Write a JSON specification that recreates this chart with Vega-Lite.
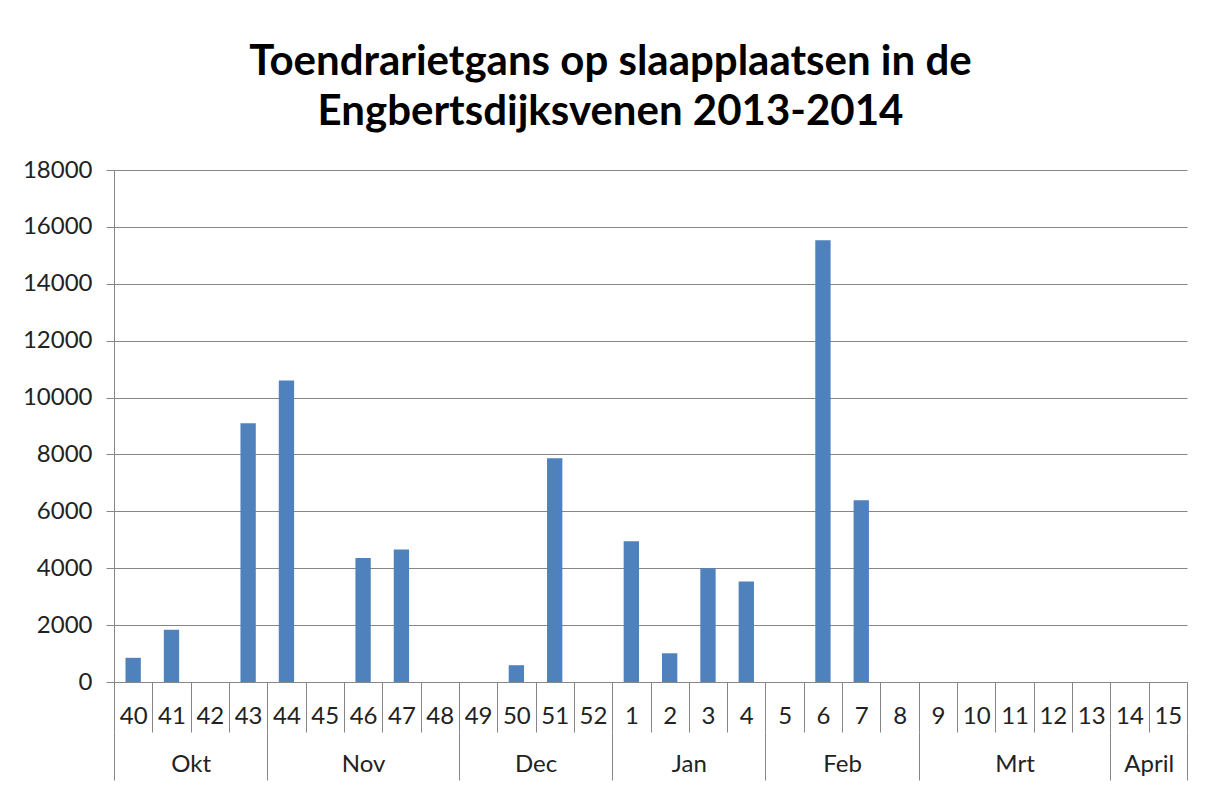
{
  "$schema": "https://vega.github.io/schema/vega-lite/v6.json",
  "width": 1073,
  "height": 512,
  "autosize": {"type": "none"},
  "padding": {"left": 114, "top": 170, "right": 25, "bottom": 105},
  "background": "white",
  "title": {
    "text": ["Toendrarietgans op slaapplaatsen in de", "Engbertsdijksvenen 2013-2014"],
    "font": "Lato",
    "fontSize": 42,
    "fontWeight": "bold",
    "color": "#000000",
    "lineHeight": 50,
    "anchor": "middle",
    "dx": -40,
    "offset": 24
  },
  "config": {"view": {"stroke": null}, "font": "Lato"},
  "data": {
    "values": [
      {"week": "40", "count": 850},
      {"week": "41", "count": 1840},
      {"week": "42", "count": 0},
      {"week": "43", "count": 9100},
      {"week": "44", "count": 10600},
      {"week": "45", "count": 0},
      {"week": "46", "count": 4360},
      {"week": "47", "count": 4660},
      {"week": "48", "count": 0},
      {"week": "49", "count": 0},
      {"week": "50", "count": 590},
      {"week": "51", "count": 7870},
      {"week": "52", "count": 0},
      {"week": "1", "count": 4950},
      {"week": "2", "count": 1010},
      {"week": "3", "count": 4000},
      {"week": "4", "count": 3530},
      {"week": "5", "count": 0},
      {"week": "6", "count": 15530},
      {"week": "7", "count": 6390},
      {"week": "8", "count": 0},
      {"week": "9", "count": 0},
      {"week": "10", "count": 0},
      {"week": "11", "count": 0},
      {"week": "12", "count": 0},
      {"week": "13", "count": 0},
      {"week": "14", "count": 0},
      {"week": "15", "count": 0}
    ]
  },
  "layer": [
    {
      "mark": {"type": "bar", "width": {"band": 0.4}, "color": "#4F81BD"},
      "encoding": {
        "x": {
          "field": "week",
          "type": "ordinal",
          "scale": {
            "domain": ["40","41","42","43","44","45","46","47","48","49","50","51","52","1","2","3","4","5","6","7","8","9","10","11","12","13","14","15"],
            "paddingInner": 0,
            "paddingOuter": 0
          },
          "axis": {
            "title": null,
            "orient": "bottom",
            "domain": true,
            "domainColor": "#868686",
            "tickBand": "extent",
            "tickSize": 50,
            "tickColor": "#868686",
            "labelAngle": 0,
            "labelFont": "Lato",
            "labelFontSize": 24,
            "labelColor": "#222222",
            "labelPadding": -28,
            "labelBaseline": "top",
            "labelOverlap": false,
            "grid": false
          }
        },
        "y": {
          "field": "count",
          "type": "quantitative",
          "scale": {"domain": [0, 18000], "nice": false},
          "axis": {
            "title": null,
            "values": [0, 2000, 4000, 6000, 8000, 10000, 12000, 14000, 16000, 18000],
            "format": "d",
            "grid": true,
            "gridColor": "#868686",
            "domainColor": "#868686",
            "tickColor": "#868686",
            "tickSize": 8,
            "labelFont": "Lato",
            "labelFontSize": 24,
            "labelColor": "#222222",
            "labelPadding": 14
          }
        }
      }
    },
    {
      "mark": {"type": "rule", "opacity": 0},
      "encoding": {
        "x": {
          "field": "week",
          "type": "ordinal",
          "axis": {
            "title": null,
            "orient": "bottom",
            "offset": 50,
            "domain": false,
            "tickBand": "extent",
            "tickSize": 48,
            "tickColor": "#868686",
            "tickOpacity": {"condition": {"test": "datum.extra || datum.value === '43' || datum.value === '48' || datum.value === '52' || datum.value === '4' || datum.value === '8' || datum.value === '13' || datum.value === '15'", "value": 1}, "value": 0},
            "labelExpr": "datum.value === '42' ? 'Okt' : datum.value === '46' ? 'Nov' : datum.value === '51' ? 'Dec' : datum.value === '3' ? 'Jan' : datum.value === '7' ? 'Feb' : datum.value === '11' ? 'Mrt' : datum.value === '15' ? 'April' : ''",
            "labelOffset": {"condition": {"test": "datum.value === '42' || datum.value === '51' || datum.value === '3' || datum.value === '7' || datum.value === '15'", "value": -19.16}, "value": 0},
            "labelAngle": 0,
            "labelFont": "Lato",
            "labelFontSize": 24,
            "labelColor": "#222222",
            "labelPadding": -28,
            "labelBaseline": "top",
            "labelOverlap": false,
            "grid": false
          }
        }
      }
    }
  ],
  "resolve": {"axis": {"x": "independent"}}
}
